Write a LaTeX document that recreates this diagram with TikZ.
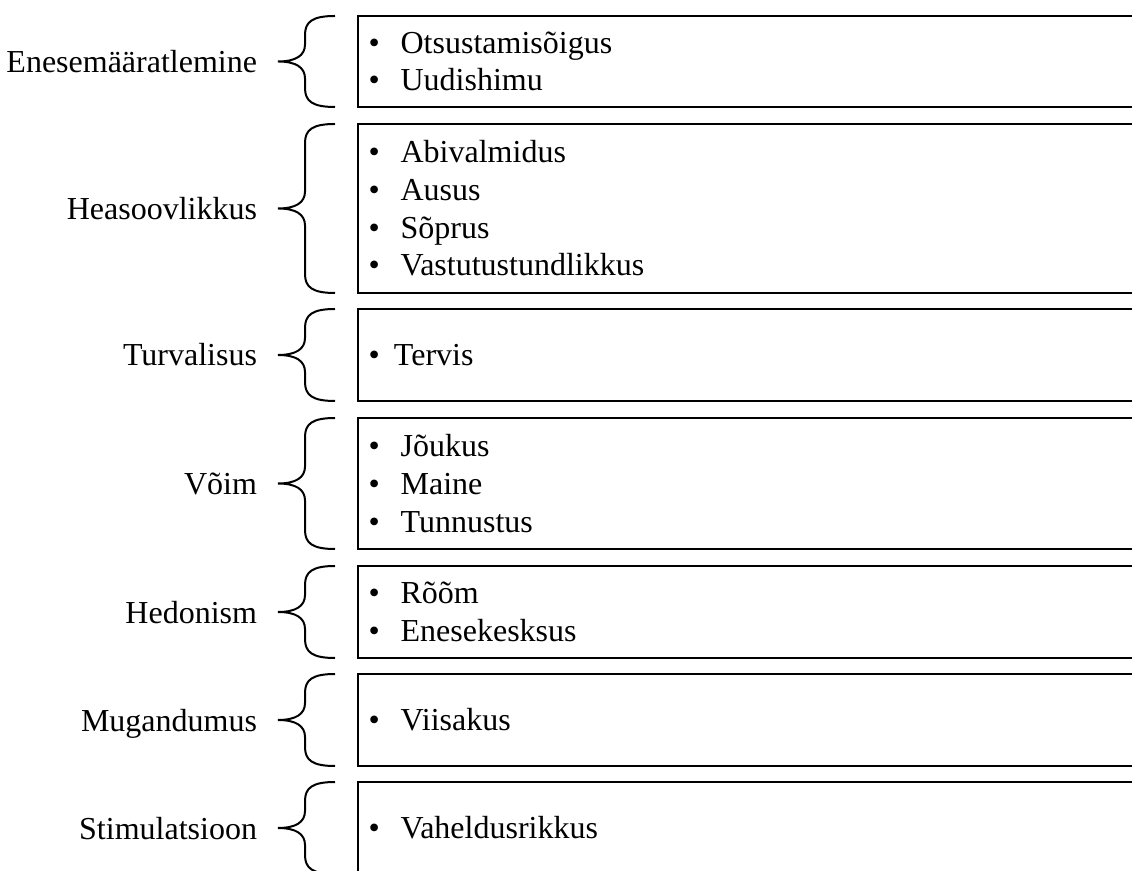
\documentclass[tikz,border=0pt]{standalone}
\usepackage{fontspec}
\setmainfont{Liberation Serif}
\newcommand{\itm}{\makebox[12pt][l]{\textbullet}}
\begin{document}
\begin{tikzpicture}[x=0.375pt,y=-0.375pt,line width=0.75pt]
	\tikzstyle{every node}=[font=\fontsize{12}{14.1}\selectfont]
	\tikzstyle{group}=[anchor=base east,inner sep=0pt]
	\tikzstyle{valbox}=[draw,anchor=west,text width=480pt,align=left,
	inner xsep=4pt,inner ysep=0pt]
	\path[use as bounding box,clip] (0,0) rectangle (1132,871);
	% boxes with the values
	\node[valbox,minimum height=34.125pt] (b1) at (357,61.5)
	{\itm Otsustamisõigus\\ \itm Uudishimu};
	\node[valbox,minimum height=63.375pt] (b2) at (357,208.5)
	{\itm Abivalmidus\\ \itm Ausus\\ \itm Sõprus\\ \itm Vastutustundlikkus};
	\node[valbox,minimum height=34.5pt] (b3) at (357,355)
	{\makebox[9.5pt][l]{\textbullet}Tervis};
	\node[valbox,minimum height=49.125pt] (b4) at (357,483.5)
	{\itm Jõukus\\ \itm Maine\\ \itm Tunnustus};
	\node[valbox,minimum height=34.5pt] (b5) at (357,612)
	{\itm Rõõm\\ \itm Enesekesksus};
	\node[valbox,minimum height=34.5pt] (b6) at (357,720)
	{\itm Viisakus};
	\node[valbox,minimum height=34.5pt] (b7) at (357,828)
	{\itm Vaheldusrikkus};
	% group names
	\node[group] (g1) at (258,72.5) {Enesemääratlemine};
	\node[group] (g2) at (258,219.5) {Heasoovlikkus};
	\node[group] (g3) at (258,366) {Turvalisus};
	\node[group] (g4) at (258,494.5) {Võim};
	\node[group] (g5) at (258,623) {Hedonism};
	\node[group] (g6) at (258,731) {Mugandumus};
	\node[group] (g7) at (258,839) {Stimulatsioon};
	% braces
	\foreach \t/\b in {16/107,124/293,309/401,418/549,566/658,674/766,782/874}{
		\pgfmathsetmacro{\m}{(\t+\b)/2}
		\draw (335,\t) .. controls (312,\t) and (305,\t+6) .. (305,\t+19)
		-- (305,\m-17) .. controls (305,\m-6) and (296,\m) .. (278,\m)
		.. controls (296,\m) and (305,\m+6) .. (305,\m+17)
		-- (305,\b-19) .. controls (305,\b-6) and (312,\b) .. (335,\b);
	}
\end{tikzpicture}
\end{document}
